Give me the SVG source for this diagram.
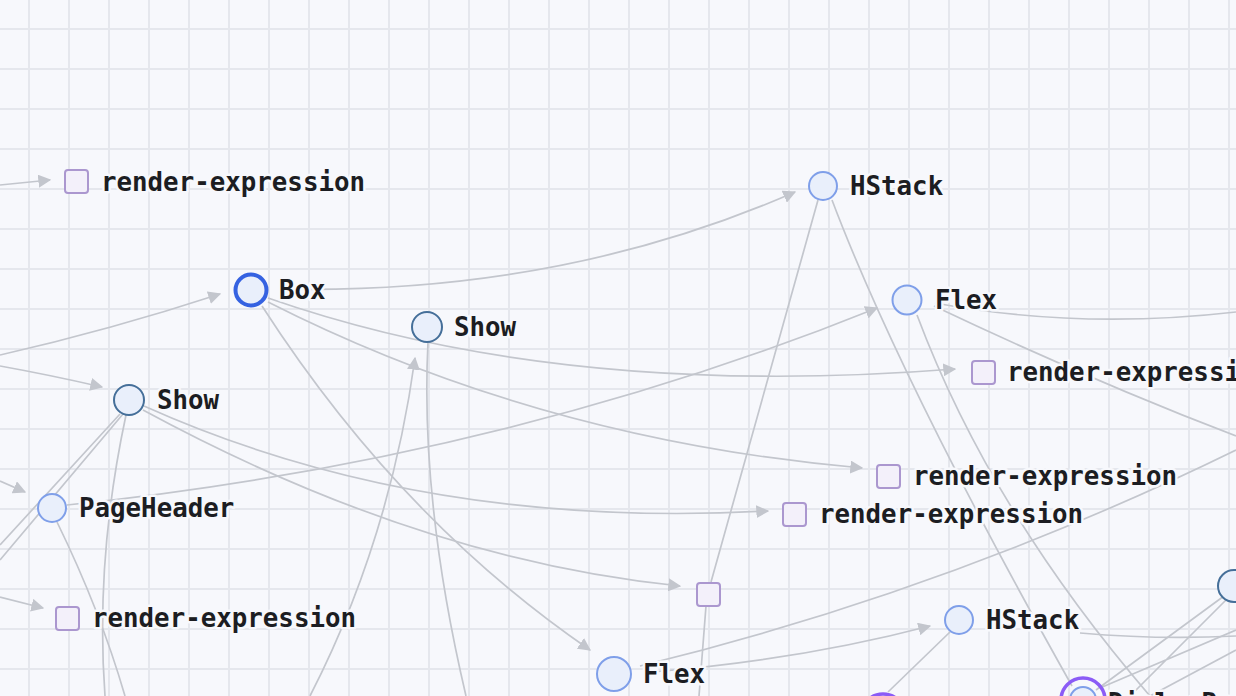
<svg xmlns="http://www.w3.org/2000/svg" width="1236" height="696" viewBox="0 0 1236 696">
<style>
.e{fill:none;stroke:#c3c6cd;stroke-width:1.7}
.t{font-family:"DejaVu Sans Mono","Liberation Mono",monospace;font-weight:bold;font-size:25.8px;fill:#1c1d22;stroke:#f7f8fc;stroke-width:5;paint-order:stroke;stroke-linejoin:round}
.c{fill:#e9effb;stroke:#7f9fe9;stroke-width:2}
.d{fill:#e9effb;stroke:#456f99;stroke-width:2}
.s{fill:#f3f0fa;stroke:#ab97cf;stroke-width:2}
.p{fill:none;stroke:#8b5cf6;stroke-width:3.5}
</style>
<defs>
<pattern id="g" x="28" y="28" width="40" height="40" patternUnits="userSpaceOnUse"><rect x="0" y="0" width="40" height="2" fill="#e5e7ed"/><rect x="0" y="0" width="2" height="40" fill="#e5e7ed"/></pattern>
<marker id="a" viewBox="0 0 10 10" refX="9" refY="5" markerWidth="13" markerHeight="13" markerUnits="userSpaceOnUse" orient="auto"><path d="M0 0L10 5L0 10z" fill="#c3c6cd"/></marker>
</defs>
<rect width="1236" height="696" fill="#f7f8fc"/>
<rect width="1236" height="696" fill="url(#g)"/>
<g id="edges">
<path class="e" d="M0 185L50 180" marker-end="url(#a)"/>
<path class="e" d="M0 355Q110 330 220 294" marker-end="url(#a)"/>
<path class="e" d="M0 366Q50 375 102 387" marker-end="url(#a)"/>
<path class="e" d="M0 481L25 492" marker-end="url(#a)"/>
<path class="e" d="M0 597L43 608" marker-end="url(#a)"/>
<path class="e" d="M279 289Q560 295 795 192" marker-end="url(#a)"/>
<path class="e" d="M268 298Q560 400 955 369" marker-end="url(#a)"/>
<path class="e" d="M268 302Q540 440 862 468" marker-end="url(#a)"/>
<path class="e" d="M262 306Q400 520 590 650" marker-end="url(#a)"/>
<path class="e" d="M144 406Q420 530 768 511" marker-end="url(#a)"/>
<path class="e" d="M143 410Q420 560 680 586" marker-end="url(#a)"/>
<path class="e" d="M120 414L0 545M123 414L0 560M126 415Q95 560 105 696"/>
<path class="e" d="M67 505Q500 460 877 308" marker-end="url(#a)"/>
<path class="e" d="M57 522Q100 610 125 696"/>
<path class="e" d="M428 342Q420 500 466 696"/>
<path class="e" d="M310 696Q390 540 415 358" marker-end="url(#a)"/>
<path class="e" d="M818 200L711 582M706 606L699 696"/>
<path class="e" d="M832 200Q900 380 1072 686"/>
<path class="e" d="M935 303Q1080 330 1236 312"/>
<path class="e" d="M934 306Q1090 380 1236 436"/>
<path class="e" d="M917 315Q990 510 1150 696"/>
<path class="e" d="M640 666Q950 590 1236 450"/>
<path class="e" d="M652 672Q800 660 930 626" marker-end="url(#a)"/>
<path class="e" d="M950 632L888 692"/>
<path class="e" d="M1080 633Q1160 640 1236 636"/>
<path class="e" d="M1224 596L1096 690M1228 598L1130 696M1100 688L1236 630M1150 696L1236 650"/>
</g>
<g id="n1"><rect class="s" x="65" y="170" width="23" height="23" rx="3"/><text class="t" x="101" y="191">render-expression</text></g>
<g id="n2"><circle class="c" cx="823" cy="186" r="14"/><text class="t" x="850" y="195">HStack</text></g>
<g id="n3"><circle cx="251" cy="290" r="15.5" fill="#e9effb" stroke="#3562e1" stroke-width="4"/><text class="t" x="279" y="299">Box</text></g>
<g id="n4"><circle class="c" cx="907" cy="300" r="14.5"/><text class="t" x="935" y="309">Flex</text></g>
<g id="n5"><circle class="d" cx="427" cy="327" r="15"/><text class="t" x="454" y="336">Show</text></g>
<g id="n6"><rect class="s" x="972" y="361" width="23" height="23" rx="3"/><text class="t" x="1007" y="381">render-expression</text></g>
<g id="n7"><circle class="d" cx="129" cy="400" r="15"/><text class="t" x="157" y="409">Show</text></g>
<g id="n8"><rect class="s" x="877" y="465" width="23" height="23" rx="3"/><text class="t" x="913" y="485">render-expression</text></g>
<g id="n9"><circle class="c" cx="52" cy="508" r="14"/><text class="t" x="79" y="517">PageHeader</text></g>
<g id="n10"><rect class="s" x="783" y="503" width="23" height="23" rx="3"/><text class="t" x="819" y="523">render-expression</text></g>
<g id="n11"><rect class="s" x="697" y="583" width="23" height="23" rx="3"/></g>
<g id="n12"><rect class="s" x="56" y="607" width="23" height="23" rx="3"/><text class="t" x="92" y="627">render-expression</text></g>
<g id="n13"><circle class="c" cx="959" cy="620" r="14"/><text class="t" x="986" y="629">HStack</text></g>
<g id="n14"><circle class="c" cx="614" cy="674" r="17"/><text class="t" x="643" y="683">Flex</text></g>
<g id="n15"><circle class="p" cx="1083" cy="700" r="22"/><circle class="c" cx="1083" cy="700" r="13"/><text class="t" x="1108" y="712">DialogProvider</text></g>
<g id="n16"><circle class="p" cx="883" cy="716" r="22"/></g>
<g id="n17"><circle class="d" cx="1234" cy="586" r="16"/></g>
</svg>
